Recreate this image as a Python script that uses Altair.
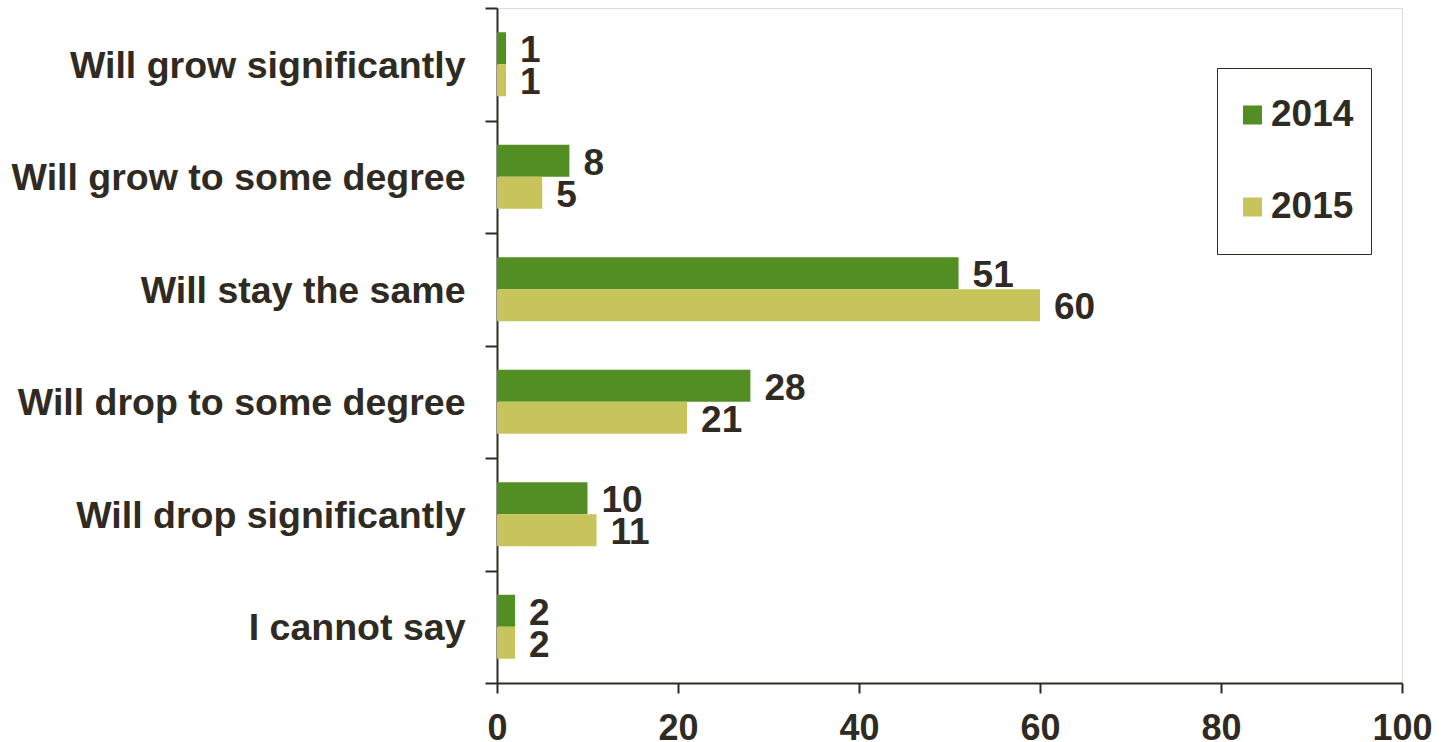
import altair as alt
import pandas as pd

# Survey answers, top to bottom
categories = [
    "Will grow significantly",
    "Will grow to some degree",
    "Will stay the same",
    "Will drop to some degree",
    "Will drop significantly",
    "I cannot say",
]
years = ["2014", "2015"]
values_2014 = [1, 8, 51, 28, 10, 2]
values_2015 = [1, 5, 60, 21, 11, 2]
x_ticks = [0, 20, 40, 60, 80, 100]

colors = ["#538e22", "#c8c45c"]
ink = "#2f2b22"
font = "Liberation Sans"

rows = []
for year, vals in zip(years, [values_2014, values_2015]):
    for cat, v in zip(categories, vals):
        rows.append({"category": cat, "year": year, "value": v})
df = pd.DataFrame(rows)

base = alt.Chart(df).encode(
    y=alt.Y(
        "category:N",
        sort=categories,
        scale=alt.Scale(paddingInner=0, paddingOuter=0),
        axis=alt.Axis(
            title=None,
            tickBand="extent",
            tickSize=12,
            tickWidth=2,
            tickColor=ink,
            domainColor=ink,
            domainWidth=2,
            labelFont=font,
            labelFontSize=37.5,
            labelFontWeight="bold",
            labelColor=ink,
            labelPadding=20,
            labelLimit=700,
            labelOffset=2,
        ),
    ),
    yOffset=alt.YOffset(
        "year:N",
        sort=years,
        scale=alt.Scale(paddingInner=0, paddingOuter=0.758),
    ),
)

bars = base.mark_bar().encode(
    x=alt.X(
        "value:Q",
        scale=alt.Scale(domain=[0, 100], nice=False),
        axis=alt.Axis(
            title=None,
            values=x_ticks,
            grid=False,
            tickSize=10,
            tickWidth=2,
            tickColor=ink,
            domainColor=ink,
            domainWidth=2,
            labelFont=font,
            labelFontSize=36,
            labelFontWeight="bold",
            labelColor=ink,
            labelPadding=18,
            labelFlush=False,
        ),
    ),
    color=alt.Color(
        "year:N",
        scale=alt.Scale(domain=years, range=colors),
        legend=alt.Legend(
            title=None,
            orient="none",
            legendX=720,
            legendY=60,
            padding=17,
            clipHeight=60,
            rowPadding=32,
            strokeColor=ink,
            symbolType="square",
            symbolSize=361,
            symbolStrokeWidth=0,
            labelFont=font,
            labelFontSize=37,
            labelFontWeight="bold",
            labelColor=ink,
            labelOffset=0,
        ),
    ),
)

labels = base.mark_text(
    align="left",
    baseline="middle",
    dx=14,
    dy=3,
    font=font,
    fontSize=37,
    fontWeight="bold",
    color=ink,
).encode(
    x=alt.X("value:Q"),
    text=alt.Text("value:Q"),
)

chart = (
    alt.layer(bars, labels)
    .properties(
        width=905,
        height=675,
        autosize=alt.AutoSizeParams(type="none"),
        padding={"left": 497, "top": 8, "right": 41, "bottom": 59},
    )
    .configure_view(stroke=ink, strokeWidth=2.5, strokeOpacity=1)
    .configure_legend(strokeWidth=2)
    .configure(background="white")
)

chart.save("out.html", embed_options={"renderer": "svg", "actions": False})
